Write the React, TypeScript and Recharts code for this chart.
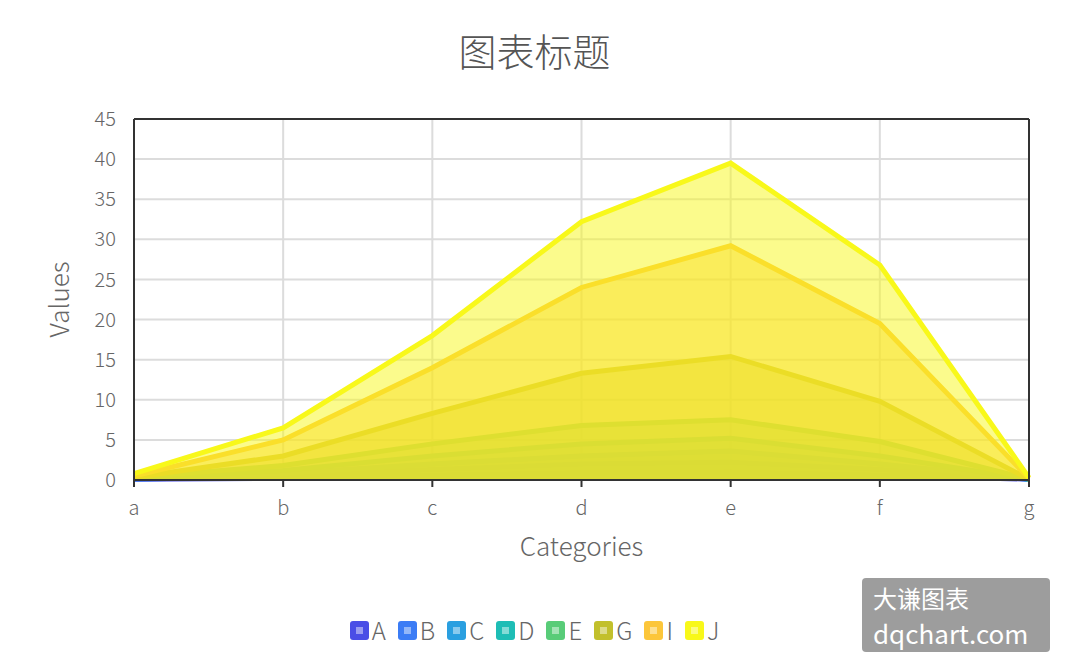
import React from 'react';
import {
  AreaChart,
  Area,
  XAxis,
  YAxis,
  CartesianGrid,
  ReferenceLine,
  Label,
} from 'recharts';

const categories = ['a', 'b', 'c', 'd', 'e', 'f', 'g'];

const seriesA = [0.1, 0.2, 0.6, 0.9, 1.0, 0.6, 0.1];
const seriesB = [0.1, 0.5, 1.3, 2.0, 2.2, 1.3, 0.1];
const seriesC = [0.2, 0.8, 2.0, 3.0, 3.6, 2.0, 0.1];
const seriesD = [0.2, 1.2, 3.0, 4.5, 5.2, 3.0, 0.1];
const seriesE = [0.3, 1.8, 4.5, 6.8, 7.5, 4.8, 0.1];
const seriesG = [0.3, 3.0, 8.3, 13.3, 15.4, 9.8, 0.1];
const seriesI = [0.5, 5.0, 14.0, 24.0, 29.2, 19.5, 0.2];
const seriesJ = [0.8, 6.5, 18.0, 32.2, 39.5, 26.8, 0.3];

const yTicks = [0, 5, 10, 15, 20, 25, 30, 35, 40, 45];

const series = [
  { key: 'A', values: seriesA, color: '#4a4ee6' },
  { key: 'B', values: seriesB, color: '#3b7cf5' },
  { key: 'C', values: seriesC, color: '#2a9fe0' },
  { key: 'D', values: seriesD, color: '#1ebdb5' },
  { key: 'E', values: seriesE, color: '#58cc78' },
  { key: 'G', values: seriesG, color: '#c2c02c' },
  { key: 'I', values: seriesI, color: '#fcc63a' },
  { key: 'J', values: seriesJ, color: '#f8f81a' },
];

const data = categories.map((name, i) => {
  const row: Record<string, string | number> = { name };
  series.forEach((s) => {
    row[s.key] = s.values[i];
  });
  return row;
});

const FONT = '"Noto Sans CJK SC", "Noto Sans", sans-serif';

const App: React.FC = () => {
  return (
    <div style={{ position: 'absolute', left: 0, top: 0, width: 1069, height: 672, background: '#fff', fontFamily: FONT }}>
      <div
        style={{
          position: 'absolute',
          top: 22,
          width: '100%',
          textAlign: 'center',
          fontSize: 38,
          color: '#555',
          fontWeight: 300,
        }}
      >
        图表标题
      </div>

      <AreaChart width={1069} height={672} data={data} margin={{ top: 119, right: 40, bottom: 112, left: 0 }}>
        <CartesianGrid stroke="#dcdcdc" strokeWidth={2} />
        <XAxis
          dataKey="name"
          height={80}
          axisLine={{ stroke: '#333', strokeWidth: 2 }}
          tickLine={{ stroke: '#333', strokeWidth: 2 }}
          tickSize={7}
          tick={{ fill: '#666', fontSize: 20, fontFamily: FONT, fontWeight: 300 }}
          tickMargin={14}
          interval={0}
        >
          <Label value="Categories" position="insideBottom" offset={4} fill="#666" fontSize={26} fontFamily={FONT} fontWeight={300} />
        </XAxis>
        <YAxis
          width={134}
          domain={[0, 45]}
          ticks={yTicks}
          axisLine={{ stroke: '#333', strokeWidth: 2 }}
          tickLine={false}
          tick={{ fill: '#666', fontSize: 20, fontFamily: FONT, fontWeight: 300 }}
          tickMargin={12}
        >
          <Label
            value="Values"
            angle={-90}
            position="insideLeft"
            offset={60}
            textAnchor="middle"
            fill="#666"
            fontSize={26}
            fontFamily={FONT}
            fontWeight={300}
          />
        </YAxis>
        <ReferenceLine y={45} stroke="#333" strokeWidth={2} />
        <ReferenceLine x="g" stroke="#333" strokeWidth={2} />
        {series.map((s) => (
          <Area
            key={s.key}
            type="linear"
            dataKey={s.key}
            stroke={s.color}
            strokeWidth={5}
            fill={s.color}
            fillOpacity={0.5}
            dot={false}
            activeDot={false}
            isAnimationActive={false}
          />
        ))}
      </AreaChart>

      <div
        style={{
          position: 'absolute',
          top: 615,
          left: 0,
          width: 1069,
          display: 'flex',
          justifyContent: 'center',
          gap: 12,
          fontSize: 24,
          color: '#666',
          fontWeight: 300,
        }}
      >
        {series.map((s) => (
          <div key={s.key} style={{ display: 'flex', alignItems: 'center', gap: 3 }}>
            <div
              style={{
                width: 19,
                height: 19,
                borderRadius: 3,
                background: s.color,
                display: 'flex',
                alignItems: 'center',
                justifyContent: 'center',
              }}
            >
              <div style={{ width: 7, height: 7, background: 'rgba(255,255,255,0.45)' }} />
            </div>
            <span style={{ lineHeight: '30px' }}>{s.key}</span>
          </div>
        ))}
      </div>

      <div
        style={{
          position: 'absolute',
          left: 862,
          top: 578,
          width: 188,
          height: 74,
          background: 'rgba(140,140,140,0.85)',
          borderRadius: 4,
          color: '#fff',
          fontSize: 24,
          lineHeight: '35px',
          padding: '2px 11px',
          boxSizing: 'border-box',
        }}
      >
        <div>大谦图表</div>
        <div style={{ fontSize: 26 }}>dqchart.com</div>
      </div>
    </div>
  );
};

export default App;
